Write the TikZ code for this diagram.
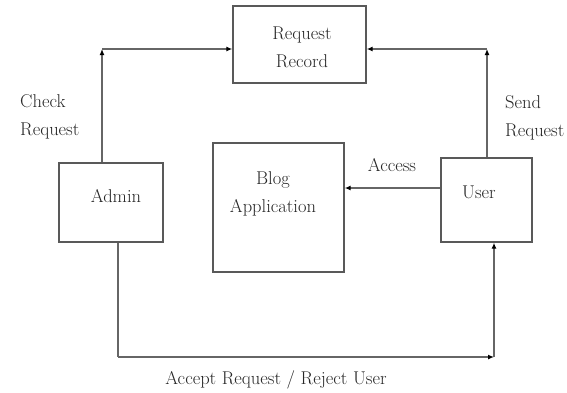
\documentclass[tikz,border=0pt]{standalone}
\usetikzlibrary{arrows.meta}
\begin{document}
\begin{tikzpicture}[x=1pt,y=-1pt,
  box/.style={draw=black!65,line width=1.4pt,fill=white,inner sep=0pt},
  lbl/.style={text=black!85,font=\fontsize{18.5}{28}\selectfont,inner sep=0pt},
  conn/.style={draw=black!60,line width=1.4pt},
  arr/.style={conn,-{Latex[length=6pt,width=5pt,color=black]}}]
\useasboundingbox (0,0) rectangle (567,392);
% boxes
\node[box,minimum width=133pt,minimum height=77pt] (rr) at (299.5,44.5) {};
\node[box,minimum width=104pt,minimum height=79pt] (admin) at (111,202.5) {};
\node[box,minimum width=131pt,minimum height=129pt] (blog) at (278.5,207.5) {};
\node[box,minimum width=91pt,minimum height=84pt] (user) at (486.5,200) {};
% box texts
\node[lbl,align=center] (rrtxt) at (302,47.5) {Request\\Record};
\node[lbl] (admintxt) at (116,196) {Admin};
\node[lbl,align=center] (blogtxt) at (273,194) {Blog\\Application};
\node[lbl] (usertxt) at (479,192) {User};
% labels
\node[lbl,align=left,anchor=west] (check) at (20,117) {Check\\Request};
\node[lbl,align=left,anchor=west] (send) at (505,118) {Send\\Request};
\node[lbl] (access) at (392,165) {Access};
\node[lbl] (accept) at (276,380) {Accept Request / Reject User};
% corner coordinates
\coordinate (c1) at (102,49);
\coordinate (c2) at (487,49);
\coordinate (c3) at (118,357);
\coordinate (c4) at (494,357);
% connectors
\draw[arr] (admin.north -| c1) -- (c1);
\draw[arr] (c1) -- (rr.west |- c1);
\draw[arr] (user.north -| c2) -- (c2);
\draw[arr] (c2) -- (rr.east |- c2);
\draw[arr] (user.west |- 0,188) -- (blog.east |- 0,188);
\draw[conn] (admin.south -| c3) -- (c3);
\draw[arr] (c3) -- (c4);
\draw[arr] (c4) -- (user.south -| c4);
\end{tikzpicture}
\end{document}
